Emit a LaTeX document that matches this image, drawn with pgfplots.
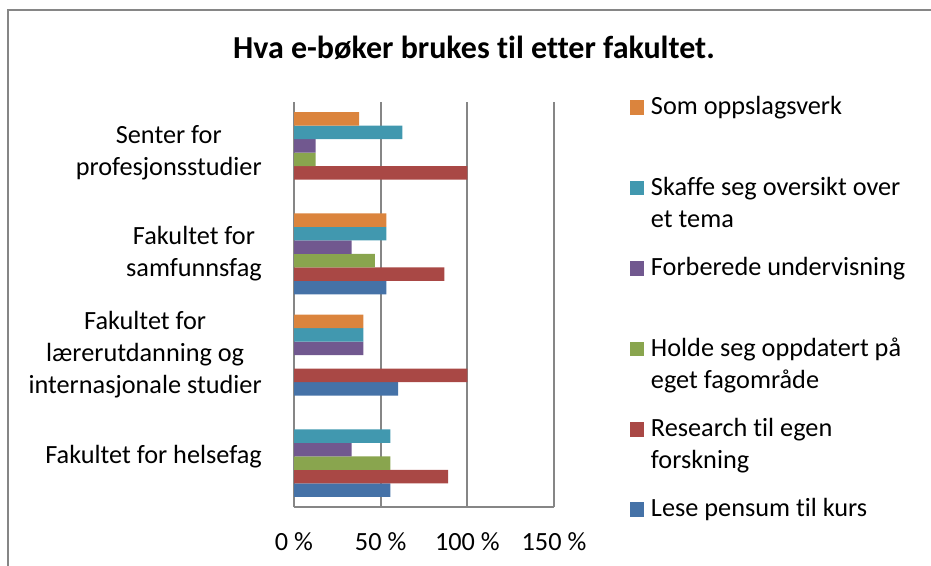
\documentclass[border=0pt]{standalone}
\usepackage{pgfplots}
\pgfplotsset{compat=1.18}
\usepackage{fontspec}
\setmainfont{Carlito}[Ligatures=NoCommon]
\definecolor{cblue}{RGB}{69,114,167}
\definecolor{cred}{RGB}{169,72,69}
\definecolor{cgreen}{RGB}{137,165,78}
\definecolor{cpurple}{RGB}{113,88,143}
\definecolor{cteal}{RGB}{65,152,175}
\definecolor{corange}{RGB}{219,132,61}
\definecolor{gridgray}{RGB}{134,134,134}
\begin{document}
\fontsize{19.7pt}{24pt}\selectfont
\begin{tikzpicture}
\path[use as bounding box] (0,0) rectangle (698.25pt,-424.5pt);
\draw[gridgray, line width=1.2pt] (6pt,-7.5pt) rectangle (760pt,-470pt);
\node[anchor=base, font=\fontsize{24pt}{28pt}\selectfont\bfseries] at (355.5pt,-44.25pt) {Hva e-bøker brukes til etter fakultet.};
\begin{axis}[
  at={(220.5pt,-380.25pt)}, anchor=south west,
  scale only axis, width=195pt, height=303.75pt,
  xmin=0, xmax=150, ymin=-0.5, ymax=3.5,
  xbar=0pt, bar width=10.125pt,
  axis x line*=bottom, axis y line*=left,
  axis line style={-, draw=gridgray, line width=1.4pt},
  every outer x axis line/.append style={-},
  every outer y axis line/.append style={-},
  every inner x axis line/.append style={-},
  every inner y axis line/.append style={-},
  xtick={0,50,100,150}, xticklabels={0 \%, 50 \%, 100 \%, 150 \%},
  ytick={0,1,2,3},
  yticklabels={Fakultet for helsefag, Fakultet for\\lærerutdanning og\\internasjonale studier, Fakultet for\\samfunnsfag, Senter for\\profesjonsstudier},
  yticklabel style={align=center, anchor=east, inner sep=0pt, xshift=-24pt},
  xticklabel style={anchor=base, inner sep=0pt, yshift=-32.25pt},
  major tick length=0pt,
  xmajorgrids, grid style={draw=gridgray, line width=1.4pt},
  reverse legend,
  legend image code/.code={\fill[#1] (0pt,0pt) rectangle (10.5pt,11pt);},
  legend style={at={(1.2923,1.0173)}, anchor=north west, draw=none, fill=none,
    inner sep=0pt, outer sep=0pt, row sep=0pt, column sep=5.25pt,
    cells={anchor=base west},
    nodes={inner sep=0pt, text width=200pt, align=left, text height=15pt, text depth=45.3pt,
      execute at begin node={\spaceskip=0pt\xspaceskip=0pt\rightskip=0pt plus 1fil\hyphenpenalty=10000\exhyphenpenalty=10000}}},
]
\addplot[draw=none, fill=cblue] coordinates {(55.6,0) (60,1) (53.3,2)};
\addlegendentry{Lese pensum til kurs}
\addplot[draw=none, fill=cred] coordinates {(88.9,0) (100,1) (86.7,2) (100,3)};
\addlegendentry{Research til egen forskning}
\addplot[draw=none, fill=cgreen] coordinates {(55.6,0) (46.7,2) (12.5,3)};
\addlegendentry{Holde seg oppdatert på eget fagområde}
\addplot[draw=none, fill=cpurple] coordinates {(33.3,0) (40,1) (33.3,2) (12.5,3)};
\addlegendentry{Forberede undervisning}
\addplot[draw=none, fill=cteal] coordinates {(55.6,0) (40,1) (53.3,2) (62.5,3)};
\addlegendentry{Skaffe seg oversikt over et tema}
\addplot[draw=none, fill=corange] coordinates {(40,1) (53.3,2) (37.5,3)};
\addlegendentry{Som oppslagsverk}
\end{axis}
\end{tikzpicture}
\end{document}
